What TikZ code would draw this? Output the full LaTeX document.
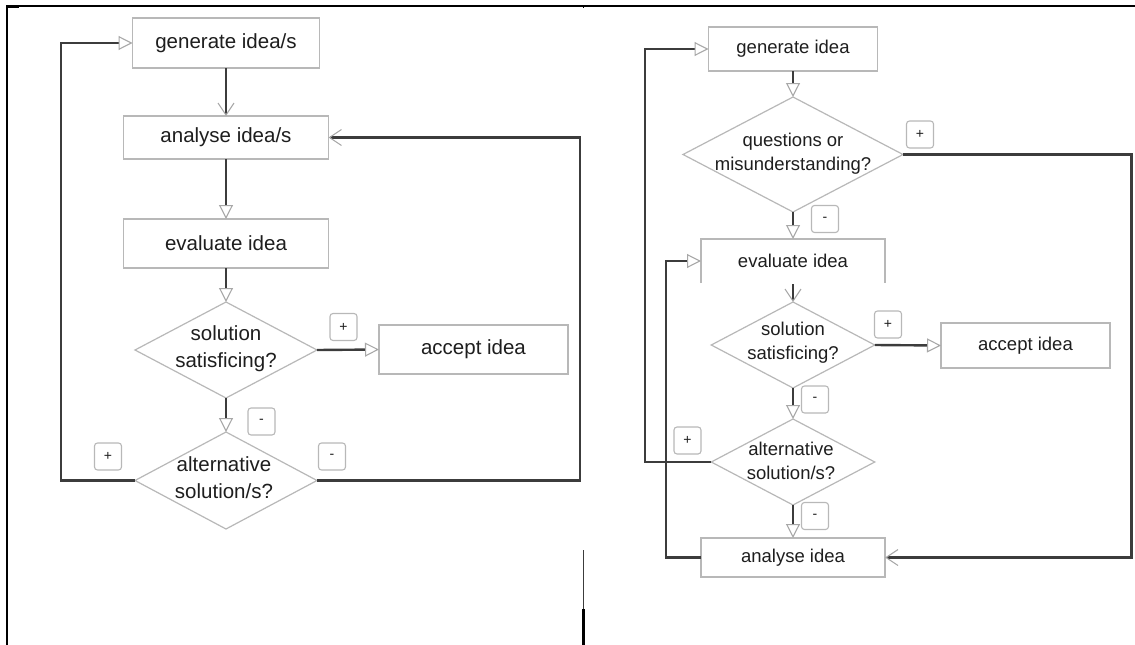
\documentclass[tikz,border=0pt]{standalone}
\usepackage{fontspec}
\setmainfont{Liberation Sans}
\usetikzlibrary{shapes.geometric,arrows.meta}
\definecolor{linec}{HTML}{3C3C3C}
\definecolor{boxc}{HTML}{B8B8B8}
\definecolor{tipc}{HTML}{A8A8A8}
\definecolor{txtc}{HTML}{1E1E1E}
\begin{document}
\begin{tikzpicture}[x=1pt,y=-1pt,
  boxL/.style={draw=boxc,line width=1.2pt,fill=white,text=txtc,inner sep=0pt,outer sep=0pt,font=\fontsize{20.5}{27}\selectfont},
  boxR/.style={draw=boxc,line width=1.2pt,fill=white,text=txtc,inner sep=0pt,outer sep=0pt,font=\fontsize{18.5}{24}\selectfont},
  dia/.style={diamond,draw=boxc,line width=1.2pt,fill=white,inner sep=0pt,outer sep=0pt},
  diatxtL/.style={align=center,text=txtc,inner sep=0pt,font=\fontsize{20.5}{27}\selectfont},
  diatxtR/.style={align=center,text=txtc,inner sep=0pt,font=\fontsize{18.5}{24}\selectfont},
  tag/.style={draw=boxc,line width=1.1pt,rounded corners=3pt,fill=white,minimum width=27pt,minimum height=27pt,inner sep=0pt,text=txtc,font=\fontsize{14}{14}\selectfont},
  conn/.style={draw=linec,line width=2.4pt},
  tri/.style={-{Triangle[open,length=14pt,width=14pt,line width=1.1pt,color=tipc]}},
  barb/.style={-{Straight Barb[length=12pt,width=16pt,line width=1.1pt,color=tipc]}},
  frame/.style={draw=black}
]
\useasboundingbox (0,0) rectangle (1135,645);
% frame
\draw[frame,line width=2.6pt] (7,6) -- (7,645);
\draw[frame,line width=1.6pt] (7,6) -- (1135,6);
\draw[frame,line width=3pt] (6,6.5) -- (19,6.5);
\draw[frame,line width=1pt] (583.5,6) -- (583.5,8);
\draw[draw=linec,line width=1.6pt] (583.5,550) -- (583.5,610);
\draw[frame,line width=2.8pt] (583.5,609) -- (583.5,645);

% ---------------- left chart ----------------
\node[boxL,minimum width=187pt,minimum height=50pt] (gen1) at (226,43) {generate idea/s};
\node[boxL,minimum width=205pt,minimum height=43pt] (ana1) at (226,137.5) {analyse idea/s};
\node[boxL,minimum width=205pt,minimum height=49pt] (eva1) at (226,243.5) {evaluate idea};
\node[dia,minimum width=182pt,minimum height=96pt] (sat1) at (226,350) {};
\node[diatxtL] (sat1t) at (226,349) {solution\\satisficing?};
\node[boxL,minimum width=189pt,minimum height=49pt] (acc1) at (473.5,349.5) {accept idea};
\node[dia,minimum width=182pt,minimum height=97pt] (alt1) at (226,480.5) {};
\node[diatxtL] (alt1t) at (224,478) {alternative\\solution/s?};

\draw[conn,barb] (gen1.south) -- (ana1.north);
\draw[conn,tri] (ana1.south) -- (eva1.north);
\draw[conn,tri] (eva1.south) -- (sat1.north);
\draw[conn,tri] (sat1.east) -- (acc1.west);
\draw[conn,tri] (sat1.south) -- (alt1.north);
\coordinate (l1a) at (61,480.5);
\coordinate (l1b) at (580,480.5);
\draw[conn,tri] (alt1.west) -- (l1a) |- (gen1.west);
\draw[conn,barb] (alt1.east) -- (l1b) |- (ana1.east);

\node[tag] (t1) at (343.5,327) {+};
\node[tag] (t2) at (261.5,421.5) {-};
\node[tag] (t3) at (108,456.5) {+};
\node[tag] (t4) at (332,456.5) {-};

% ---------------- right chart ----------------
\node[boxR,minimum width=169pt,minimum height=44pt] (gen2) at (793,49) {generate idea};
\node[dia,minimum width=220pt,minimum height=115pt] (q2) at (793,154.5) {};
\node[diatxtR] (q2t) at (793,154) {questions or\\misunderstanding?};
\node[boxR,draw=none,minimum width=184pt,minimum height=44pt] (eva2) at (793,261) {evaluate idea};
\draw[draw=boxc,line width=1.2pt] (eva2.south west) -- (eva2.north west) -- (eva2.north east) -- (eva2.south east);
\node[dia,minimum width=163.5pt,minimum height=86pt] (sat2) at (793,345) {};
\node[diatxtR] (sat2t) at (793,343) {solution\\satisficing?};
\node[boxR,minimum width=169pt,minimum height=45pt] (acc2) at (1025.5,345.5) {accept idea};
\node[dia,minimum width=163.5pt,minimum height=86pt] (alt2) at (793,462) {};
\node[diatxtR] (alt2t) at (791,461) {alternative\\solution/s?};
\node[boxR,minimum width=184pt,minimum height=39pt] (ana2) at (793,557.5) {analyse idea};

\draw[conn,tri] (gen2.south) -- (q2.north);
\draw[conn,tri] (q2.south) -- (eva2.north);
\coordinate (e2b) at (793,284);
\draw[conn,barb] (e2b) -- (sat2.north);
\draw[conn,tri] (sat2.east) -- (acc2.west);
\draw[conn,tri] (sat2.south) -- (alt2.north);
\draw[conn,tri] (alt2.south) -- (ana2.north);
\coordinate (r2a) at (1131.5,154.5);
\draw[conn,barb] (q2.east) -- (r2a) |- (ana2.east);
\coordinate (r2b) at (645,462);
\draw[conn,tri] (alt2.west) -- (r2b) |- (gen2.west);
\coordinate (r2c) at (666,557.5);
\draw[conn,tri] (ana2.west) -- (r2c) |- (eva2.west);

\node[tag] (t5) at (920,134.5) {+};
\node[tag] (t6) at (825,219) {-};
\node[tag] (t7) at (888,324.5) {+};
\node[tag] (t8) at (815,399.5) {-};
\node[tag] (t9) at (687.5,440.5) {+};
\node[tag] (t10) at (815,516) {-};
\end{tikzpicture}
\end{document}
